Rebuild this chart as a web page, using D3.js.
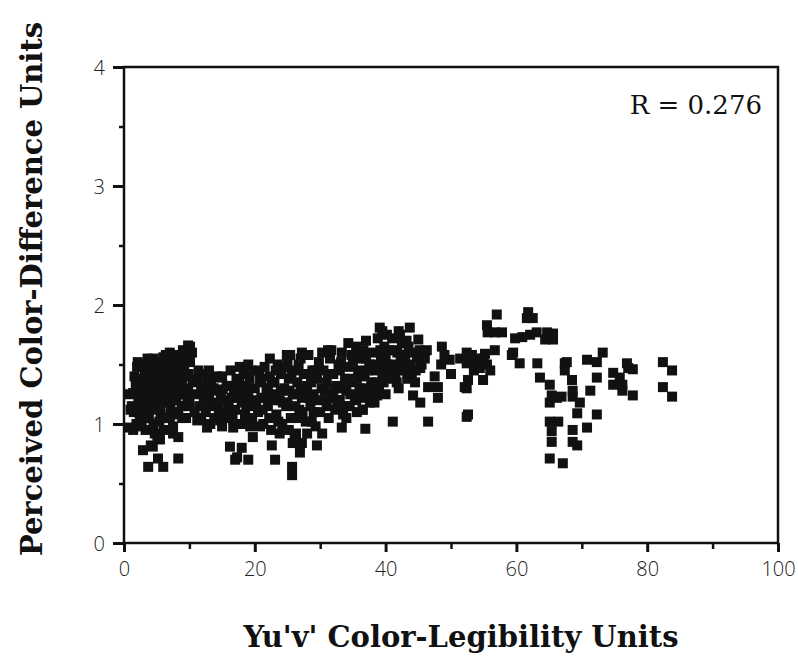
<!DOCTYPE html>
<html>
<head>
<meta charset="utf-8">
<script src="https://cdn.jsdelivr.net/npm/d3@7"></script>
<style>
  body { margin: 0; background: #fff; }
  .tick-label { font-family: "Open Sans", "DejaVu Sans", sans-serif; font-weight: 300; font-size: 20px; fill: #222; }
  .axis-title { font-family: "DejaVu Serif", serif; font-weight: bold; font-size: 29px; fill: #111; }
  .r-label { font-family: "DejaVu Serif", serif; font-size: 26px; fill: #111; }
</style>
</head>
<body>
<div id="chart"></div>
<script>
// [Yu'v' legibility, perceived difference], grouped by x range
const band0to10 = [
  [0.8,1.25],[0.9,0.97],[1.5,1.1],[1.8,1.32],[2.0,1.48],[2.2,1.2],[2.4,1.05],[2.6,1.38],[2.8,1.5],[3.0,1.15],
  [3.1,1.28],[3.3,0.95],[3.5,1.42],[3.6,1.1],[3.8,1.35],[4.0,1.22],[4.1,0.82],[4.3,1.5],[4.5,1.0],[4.6,1.3],
  [4.8,1.15],[5.0,1.45],[5.1,0.9],[5.3,1.25],[5.5,1.38],[5.6,1.08],[5.8,1.52],[6.0,1.18],[6.1,0.95],[6.3,1.32],
  [6.5,1.44],[6.6,1.05],[6.8,1.25],[7.0,1.55],[7.1,1.12],[7.3,1.38],[7.5,0.98],[7.6,1.28],[7.8,1.48],[8.0,1.2],
  [8.2,1.58],[8.3,1.08],[8.5,1.35],[8.7,1.45],[8.8,1.15],[9.0,1.62],[9.2,1.25],[9.3,1.4],[9.5,1.05],[9.6,1.55],
  [9.8,1.3],[10.0,1.18],[10.1,1.65],[2.0,1.35],[2.5,1.25],[3.2,1.45],[3.8,1.05],[4.2,1.4],[4.7,1.2],[5.2,1.5],
  [5.5,1.15],[6.2,1.48],[6.8,1.35],[7.4,1.2],[8.0,1.4],[8.6,1.25],[9.2,1.5],[4.0,1.3],[5.8,1.28],[7.0,1.05],
  [3.5,1.2],[6.0,1.4],[7.8,1.3],[1.4,0.95],[2.9,0.78],[3.7,0.64],[6.0,0.64],[5.2,0.71],[8.3,0.71],[8.3,0.89],
  [7.5,0.92],[5.5,0.87],[4.4,0.81],[4.7,0.92],[1.4,1.26],[9.8,1.66],[7.0,1.6],[10.4,1.6],[10.1,1.52],[2.1,1.52],
  [6.0,1.56],[1.2,1.15],[1.6,1.4],[2.3,1.1],[2.7,0.98],[3.0,1.35],[3.4,1.05],[3.9,1.48],[4.4,1.12],[4.9,1.35],
  [5.4,1.02],[5.9,1.42],[6.4,1.22],[6.9,1.45],[7.2,1.3],[7.7,1.1],[8.1,1.5],[8.4,1.28],[8.9,1.38],[9.4,1.15],
  [9.9,1.42],[2.6,1.15],[3.6,1.55],[4.5,1.55],[5.6,1.3],[6.4,1.58],[7.3,1.5],[8.9,1.05],[9.7,1.22],[1.0,1.12],
  [1.9,1.0]
];
const band10to20 = [
  [11.2,1.03],[12.7,0.97],[9.8,1.18],[11.2,1.37],[12.7,1.37],[14.7,1.39],[15.1,1.29],[14.2,1.18],[16.2,1.09],[14.7,1.03],
  [16.7,0.97],[16.2,0.81],[17.0,0.7],[11.0,1.25],[11.5,1.15],[12.0,1.3],[12.5,1.1],[13.0,1.22],[13.3,1.35],[13.8,1.05],
  [14.0,1.28],[14.5,1.12],[15.0,1.4],[15.5,1.2],[15.8,1.05],[16.0,1.32],[16.5,1.22],[17.0,1.12],[17.2,1.38],[17.5,1.0],
  [17.8,1.28],[18.0,1.18],[18.3,1.42],[18.5,1.08],[18.8,1.32],[19.0,1.22],[19.3,0.98],[19.5,1.45],[19.8,1.15],[20.0,1.3],
  [12.2,1.2],[13.5,1.15],[16.8,1.3],[18.6,1.25],[18.0,0.8],[19.0,0.7],[17.3,0.72],[19.7,0.89],[12.5,1.42],[10.5,1.35],
  [10.8,1.1],[11.4,1.45],[11.8,1.05],[12.3,1.28],[12.8,1.18],[13.2,1.0],[13.7,1.3],[14.2,1.4],[14.8,1.22],[15.3,1.1],
  [15.7,1.32],[16.3,1.45],[16.6,1.05],[17.3,1.22],[17.7,1.48],[18.2,1.0],[18.7,1.15],[19.2,1.38],[19.6,1.05],[11.8,1.28],
  [13.0,1.45],[15.0,0.98],[16.0,1.15],[17.6,1.35],[19.0,1.5]
];
const band20to30 = [
  [20.5,1.1],[20.8,1.38],[21.0,1.22],[21.3,1.0],[21.5,1.48],[21.8,1.3],[22.0,1.15],[22.3,1.4],[22.5,0.95],[22.8,1.25],
  [23.0,1.35],[23.3,1.08],[23.5,1.5],[23.8,1.2],[24.0,1.42],[24.2,1.0],[24.5,1.3],[24.8,1.15],[25.0,1.52],[25.2,1.38],
  [25.5,1.05],[25.8,1.25],[26.0,1.45],[26.3,0.92],[26.5,1.35],[26.8,1.12],[27.0,1.55],[27.2,1.22],[27.5,1.42],[27.8,1.02],
  [28.0,1.32],[28.2,1.58],[28.5,1.15],[28.8,1.45],[29.0,1.25],[29.3,0.98],[29.5,1.38],[29.8,1.52],[30.0,1.1],[30.2,1.3],
  [22.0,1.3],[23.0,1.2],[24.0,1.28],[25.0,1.18],[26.0,1.25],[27.0,1.3],[28.0,1.42],[29.0,1.1],[21.0,1.35],[26.5,1.05],
  [23.1,0.7],[25.7,0.64],[25.7,0.57],[22.6,0.82],[25.8,0.84],[26.9,0.76],[27.2,0.84],[29.5,0.82],[28.0,0.92],[30.3,0.92],
  [26.1,0.89],[33.3,0.97],[31.2,1.62],[34.3,1.68],[27.2,1.6],[25.4,1.58],[20.2,1.2],[20.7,1.45],[21.2,1.12],[21.7,1.22],
  [22.2,1.05],[22.6,1.35],[23.2,1.45],[23.6,1.02],[24.3,1.18],[24.7,1.48],[25.3,1.28],[25.6,1.42],[26.2,1.15],[26.7,1.5],
  [27.3,1.1],[27.7,1.28],[28.3,1.22],[28.6,1.35],[29.2,1.45],[29.7,1.2],[20.8,0.98],[23.8,0.92],[25.2,0.95],[28.7,1.02],
  [24.9,1.58],[22.3,1.55]
];
const band30to50 = [
  [30.5,1.45],[30.8,1.2],[31.0,1.35],[31.3,1.05],[31.5,1.55],[31.8,1.25],[32.0,1.42],[32.3,1.12],[32.5,1.32],[32.8,1.5],
  [33.0,1.2],[33.3,1.6],[33.5,1.08],[33.8,1.38],[34.0,1.28],[34.3,1.48],[34.5,1.15],[34.8,1.58],[35.0,1.35],[35.3,1.22],
  [35.5,1.65],[35.8,1.45],[36.0,1.3],[36.3,1.55],[36.5,1.12],[36.8,1.4],[37.0,1.7],[37.3,1.25],[37.5,1.5],[37.8,1.35],
  [38.0,1.6],[38.3,1.18],[38.5,1.45],[38.8,1.72],[39.0,1.3],[39.3,1.55],[39.5,1.42],[39.8,1.65],[40.0,1.25],[40.3,1.5],
  [32.0,1.22],[33.0,1.45],[34.0,1.05],[35.0,1.5],[36.0,1.42],[37.0,1.55],[38.0,1.28],[39.0,1.48],[31.0,1.15],[35.5,1.2],
  [39.1,1.81],[43.7,1.81],[42.2,1.75],[45.0,1.71],[46.3,1.62],[45.3,1.47],[48.6,1.65],[49.8,1.54],[51.4,1.55],[52.4,1.51],
  [52.1,1.31],[46.5,1.31],[48.0,1.31],[48.0,1.22],[44.2,1.24],[45.3,1.18],[41.7,1.35],[41.1,1.02],[46.5,1.02],[36.9,0.96],
  [35.6,1.1],[36.5,1.12],[38.7,1.24],[40.5,1.62],[40.8,1.38],[41.0,1.72],[41.3,1.5],[41.5,1.42],[41.8,1.6],[42.0,1.3],
  [42.3,1.55],[42.5,1.68],[42.8,1.45],[43.0,1.58],[43.3,1.38],[43.5,1.65],[43.8,1.5],[44.0,1.42],[44.3,1.6],[44.5,1.35],
  [44.8,1.55],[45.2,1.62],[45.5,1.5],[40.2,1.75],[39.5,1.78],[42.0,1.78],[46.0,1.55],[48.5,1.5],[50.0,1.42],[47.5,1.4],
  [49.0,1.58],[30.3,1.6],[30.7,1.28],[31.2,1.42],[31.7,1.62],[32.2,1.3],[32.6,1.2],[33.2,1.52],[33.6,1.3],[34.2,1.38],
  [34.6,1.25],[35.2,1.58],[35.6,1.38],[36.2,1.22],[36.6,1.62],[37.2,1.45],[37.6,1.18],[38.2,1.5],[38.6,1.35],[39.2,1.62],
  [39.7,1.35],[40.6,1.45],[41.2,1.62],[42.6,1.5],[43.2,1.7],[44.6,1.45],[33.8,1.15],[37.0,1.3],[40.0,1.58]
];
const band50to85 = [
  [52.4,1.06],[57.0,1.92],[55.5,1.83],[55.6,1.77],[56.7,1.77],[57.8,1.77],[61.8,1.94],[61.6,1.89],[62.5,1.89],[59.8,1.72],
  [60.9,1.73],[62.1,1.75],[63.1,1.77],[64.7,1.77],[65.6,1.76],[64.4,1.71],[65.6,1.71],[56.7,1.62],[55.2,1.59],[54.1,1.55],
  [53.2,1.58],[52.4,1.6],[52.6,1.52],[54.4,1.47],[54.9,1.37],[52.6,1.37],[52.4,1.3],[52.6,1.08],[59.5,1.6],[60.5,1.51],
  [63.2,1.51],[67.4,1.51],[67.4,1.45],[63.6,1.39],[65.1,1.33],[65.4,1.24],[65.1,1.18],[66.9,1.23],[68.5,1.37],[68.6,1.23],
  [65.1,1.02],[66.4,1.02],[65.4,0.94],[65.4,0.85],[68.6,0.85],[65.1,0.71],[67.1,0.67],[69.3,0.82],[68.6,0.95],[70.8,0.97],
  [72.3,1.08],[69.3,1.09],[69.7,1.18],[71.3,1.28],[68.6,1.28],[72.3,1.39],[70.8,1.54],[73.2,1.6],[72.3,1.52],[67.7,1.52],
  [74.8,1.43],[75.8,1.39],[74.8,1.33],[76.2,1.33],[77.1,1.47],[77.8,1.46],[76.9,1.51],[77.8,1.24],[76.2,1.28],[82.4,1.52],
  [83.8,1.45],[82.4,1.31],[83.8,1.23],[66.2,1.22],[53.5,1.45],[54.0,1.52],[55.5,1.5],[56.0,1.45],[55.0,1.55],[59.3,1.58]
];

const xTicks = [0, 20, 40, 60, 80, 100];
const yTicks = [0, 1, 2, 3, 4];
const xMinorTicks = [10, 30, 50, 70, 90];
const yMinorTicks = [0.5, 1.5, 2.5, 3.5];
const xTitle = "Yu'v' Color-Legibility Units";
const yTitle = 'Perceived Color-Difference Units';
const rLabel = 'R = 0.276';

class ScatterPlot {

    constructor(_config, _data) {
        this.config = {
            parentElement: _config.parentElement,
            containerWidth: _config.containerWidth || 798,
            containerHeight: _config.containerHeight || 657,
            margin: _config.margin || { top: 67, right: 20, bottom: 114, left: 124 },
        };
        this.data = _data;
        this.initVis();
    }

    initVis() {
        let vis = this;

        vis.width = vis.config.containerWidth - vis.config.margin.left - vis.config.margin.right;
        vis.height = vis.config.containerHeight - vis.config.margin.top - vis.config.margin.bottom;

        vis.xScale = d3.scaleLinear().domain([0, 100]).range([0, vis.width]);
        vis.yScale = d3.scaleLinear().domain([0, 4]).range([vis.height, 0]);

        vis.svg = d3.select(vis.config.parentElement).append('svg')
            .attr('width', vis.config.containerWidth)
            .attr('height', vis.config.containerHeight);

        vis.chart = vis.svg.append('g')
            .attr('transform', `translate(${vis.config.margin.left},${vis.config.margin.top})`);

        // minor ticks first, majors drawn with labels on top
        vis.chart.append('g')
            .attr('transform', `translate(0,${vis.height})`)
            .call(d3.axisBottom(vis.xScale).tickValues(xMinorTicks).tickSize(6).tickFormat(''))
            .call(g => g.select('.domain').remove())
            .call(g => g.selectAll('line').attr('stroke', '#111').attr('stroke-width', 2.5));

        vis.chart.append('g')
            .call(d3.axisLeft(vis.yScale).tickValues(yMinorTicks).tickSize(5).tickFormat(''))
            .call(g => g.select('.domain').remove())
            .call(g => g.selectAll('line').attr('stroke', '#111').attr('stroke-width', 2.5));

        vis.xAxisGroup = vis.chart.append('g')
            .attr('transform', `translate(0,${vis.height})`)
            .call(d3.axisBottom(vis.xScale).tickValues(xTicks).tickSize(9).tickSizeOuter(0).tickPadding(10).tickFormat(d3.format('d')))
            .call(g => g.select('.domain').remove());

        vis.yAxisGroup = vis.chart.append('g')
            .call(d3.axisLeft(vis.yScale).tickValues(yTicks).tickSize(11).tickSizeOuter(0).tickPadding(8).tickFormat(d3.format('d')))
            .call(g => g.select('.domain').remove());

        [vis.xAxisGroup, vis.yAxisGroup].forEach(g => {
            g.selectAll('line').attr('stroke', '#111').attr('stroke-width', 3);
            g.selectAll('text').attr('class', 'tick-label').attr('font-family', null).attr('font-size', null);
        });
        vis.yAxisGroup.selectAll('text').attr('dy', '0.36em');

        vis.chart.append('rect')
            .attr('width', vis.width)
            .attr('height', vis.height)
            .attr('fill', 'none')
            .attr('stroke', '#111')
            .attr('stroke-width', 2.5);

        vis.chart.append('text')
            .attr('class', 'axis-title')
            .attr('text-anchor', 'middle')
            .attr('x', vis.width / 2 + 10)
            .attr('y', vis.height + 104)
            .text(xTitle);

        vis.chart.append('text')
            .attr('class', 'axis-title')
            .attr('text-anchor', 'middle')
            .attr('transform', 'rotate(-90)')
            .attr('x', -vis.height / 2 + 16)
            .attr('y', -82)
            .text(yTitle);

        vis.chart.append('text')
            .attr('class', 'r-label')
            .attr('text-anchor', 'end')
            .attr('x', vis.width - 16)
            .attr('y', 47)
            .text(rLabel);

        vis.renderVis();
    }

    renderVis() {
        let vis = this;
        const s = 10;

        vis.chart.selectAll('.pt')
            .data(vis.data)
            .join('rect')
            .attr('class', 'pt')
            .attr('x', d => vis.xScale(d[0]) - s / 2)
            .attr('y', d => vis.yScale(d[1]) - s / 2)
            .attr('width', s)
            .attr('height', s)
            .attr('fill', '#111');
    }
}

const allPoints = [].concat(band0to10, band10to20, band20to30, band30to50, band50to85);
new ScatterPlot({ parentElement: '#chart' }, allPoints);
</script>
</body>
</html>
